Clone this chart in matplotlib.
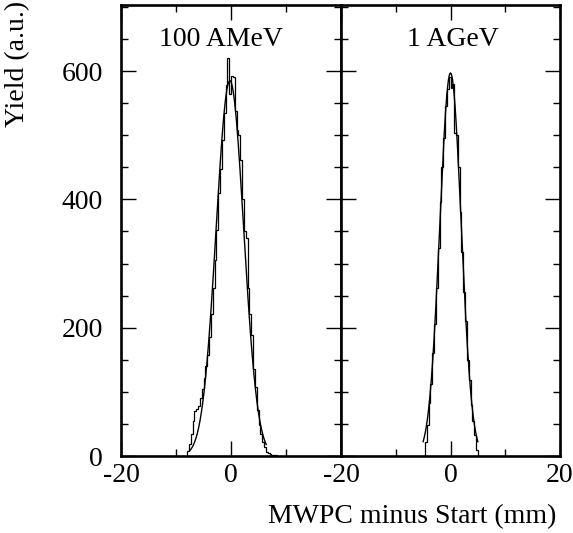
import numpy as np
import matplotlib.pyplot as plt
from matplotlib.ticker import MultipleLocator

plt.rcParams['font.family'] = ['Liberation Serif', 'DejaVu Serif']
plt.rcParams['axes.unicode_minus'] = False

# histogram binning (mm)
bin_w = 1.0 / 3.0
start_100 = -8.0
start_1g = -14.0 / 3.0

# 100 AMeV counts per bin
counts_100 = [8, 18, 34, 55, 70, 74, 78, 90, 104, 122, 140, 158, 185, 222, 262,
              306, 352, 410, 448, 492, 535, 578, 621, 565, 592, 590, 538, 508,
              500, 462, 400, 350, 340, 262, 222, 188, 135, 108, 72, 48, 35, 22,
              14, 6, 4, 3, 2, 2, 1]
# 1 AGeV counts per bin
counts_1g = [22, 48, 82, 112, 160, 205, 262, 325, 396, 450, 496, 545, 572, 590,
             574, 580, 503, 500, 450, 380, 318, 256, 210, 150, 118, 80, 55, 32, 10]

# gaussian fits: amplitude, mean, sigma, range
fit_100 = (585, -0.2, 2.5, -7.5, 6.4)
fit_1g = (597, 0.0, 1.95, -5.0, 5.0)

labels = ['100 AMeV', '1 AGeV']
label_x = [-1.9, 0.5]

fig = plt.figure(figsize=(5.73, 5.33), dpi=100)
ax1 = fig.add_axes([121/573, 77/533, 220/573, 451/533])
ax2 = fig.add_axes([341/573, 77/533, 219/573, 451/533], sharey=ax1)

panels = [(ax1, counts_100, start_100, fit_100),
          (ax2, counts_1g, start_1g, fit_1g)]

for i, (ax, counts, start, fit) in enumerate(panels):
    edges = start + bin_w * np.arange(len(counts) + 1)
    ax.stairs(counts, edges, color='black', lw=0.9)
    amp, mu, sig, lo, hi = fit
    xf = np.linspace(lo, hi, 300)
    ax.plot(xf, amp * np.exp(-(xf - mu)**2 / (2 * sig**2)), color='black', lw=1.0)

    ax.set_xlim(-20, 20)
    ax.set_ylim(0, 703)
    ax.xaxis.set_major_locator(MultipleLocator(20))
    ax.xaxis.set_minor_locator(MultipleLocator(10))
    ax.yaxis.set_major_locator(MultipleLocator(200))
    ax.yaxis.set_minor_locator(MultipleLocator(50))
    ax.tick_params(which='both', direction='in', top=True, right=True,
                   labelsize=20, width=1.0)
    ax.tick_params(which='major', length=11)
    ax.tick_params(which='minor', length=5)
    ax.tick_params(axis='y', pad=13)
    ax.tick_params(axis='x', pad=5)
    for sp in ax.spines.values():
        sp.set_linewidth(1.9)
    ax.text(label_x[i], 649, labels[i], ha='center', va='center', fontsize=20)

ax1.set_xticks([-20, 0, 20])
ax1.set_xticklabels(['-20', '0', ''])
ax2.set_xticks([-20, 0, 20])
ax2.set_xticklabels(['-20', '0', '20'])
plt.setp(ax2.get_yticklabels(), visible=False)

fig.text(18/573, 1 - 1/533, 'Yield (a.u.)', rotation=90, ha='center', va='top', fontsize=20)
fig.text(556/573, 16/533, 'MWPC minus Start (mm)', ha='right', va='center', fontsize=20)

fig.savefig('out.png', dpi=100)
